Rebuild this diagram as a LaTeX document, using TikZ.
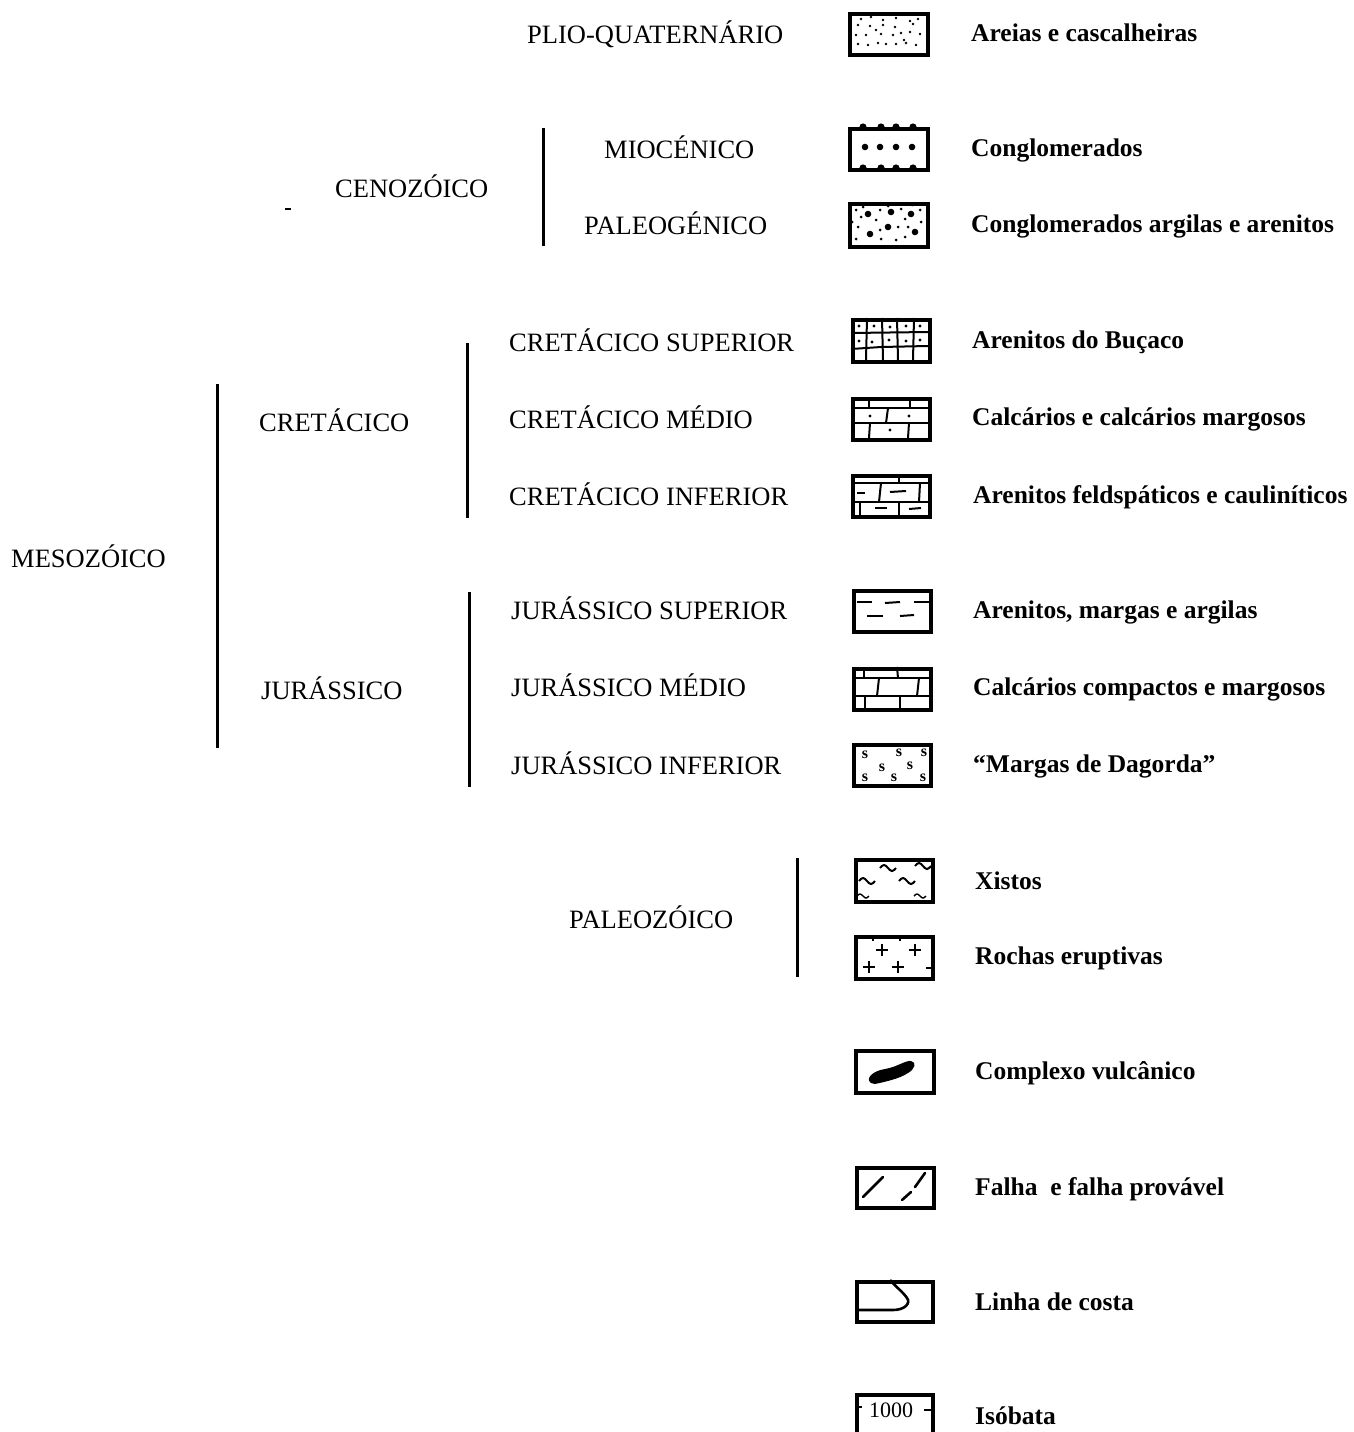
\documentclass[tikz,border=0pt]{standalone}
\usepackage{fontspec}
\setmainfont{Liberation Serif}
\begin{document}
\begin{tikzpicture}[x=1pt,y=-1pt,
  lbl/.style={anchor=base west, inner sep=0pt, font=\fontsize{26.5}{30}\selectfont},
  desc/.style={anchor=base west, inner sep=0pt, font=\fontsize{25.5}{30}\selectfont\bfseries},
  bar/.style={line width=3pt},
  symbox/.style={draw, line width=3.6pt, minimum width=78pt, minimum height=41pt, anchor=north west, inner sep=0pt},
  pat/.style={line width=2pt},
  dot/.style={fill=black, draw=none}]
\useasboundingbox (0,0) rectangle (1353,1432);
\clip (0,0) rectangle (1353,1432);

% ---------- left labels ----------
\node[lbl] (plio) at (527,43) {PLIO-QUATERN\'ARIO};
\node[lbl] (mio) at (604,158) {MIOC\'ENICO};
\node[lbl] (paleog) at (584,234) {PALEOG\'ENICO};
\node[lbl] (ceno) at (335,197) {CENOZ\'OICO};
\node[lbl] (cs) at (509,351) {CRET\'ACICO SUPERIOR};
\node[lbl] (cm) at (509,428) {CRET\'ACICO M\'EDIO};
\node[lbl] (ci) at (509,505) {CRET\'ACICO INFERIOR};
\node[lbl] (cret) at (259,431) {CRET\'ACICO};
\node[lbl] (meso) at (11,567) {MESOZ\'OICO};
\node[lbl] (js) at (511,619) {JUR\'ASSICO SUPERIOR};
\node[lbl] (jm) at (511,696) {JUR\'ASSICO M\'EDIO};
\node[lbl] (ji) at (511,774) {JUR\'ASSICO INFERIOR};
\node[lbl] (jur) at (261,699) {JUR\'ASSICO};
\node[lbl] (paleoz) at (569,928) {PALEOZ\'OICO};

% ---------- bars ----------
\coordinate (b1t) at (543,128); \coordinate (b1b) at (543,246);
\coordinate (b2t) at (217,384); \coordinate (b2b) at (217,748);
\coordinate (b3t) at (467,343); \coordinate (b3b) at (467,518);
\coordinate (b4t) at (469,592); \coordinate (b4b) at (469,787);
\coordinate (b5t) at (797,858); \coordinate (b5b) at (797,977);
\draw[bar] (b1t) -- (b1b);
\draw[bar] (b2t) -- (b2b);
\draw[bar] (b3t) -- (b3b);
\draw[bar] (b4t) -- (b4b);
\draw[bar] (b5t) -- (b5b);
\coordinate (m1) at (285,209); \coordinate (m2) at (291,209);
\draw[line width=1.8pt] (m1) -- (m2);

% ---------- right descriptions ----------
\node[desc] (d1) at (971,41) {Areias e cascalheiras};
\node[desc] (d2) at (971,156) {Conglomerados};
\node[desc] (d3) at (971,232) {Conglomerados argilas e arenitos};
\node[desc] (d4) at (972,348) {Arenitos do Bu\c{c}aco};
\node[desc] (d5) at (972,425) {Calc\'arios e calc\'arios margosos};
\node[desc] (d6) at (973,503) {Arenitos feldsp\'aticos e caulin\'iticos};
\node[desc] (d7) at (973,618) {Arenitos, margas e argilas};
\node[desc] (d8) at (973,695) {Calc\'arios compactos e margosos};
\node[desc] (d9) at (973,772) {``Margas de Dagorda''};
\node[desc] (d10) at (975,889) {Xistos};
\node[desc] (d11) at (975,964) {Rochas eruptivas};
\node[desc] (d12) at (975,1079) {Complexo vulc\^anico};
\node[desc] (d13) at (975,1195) {Falha \ e falha prov\'avel};
\node[desc] (d14) at (975,1310) {Linha de costa};
\node[desc] (d15) at (975,1424) {Is\'obata};

% ---------- symbol boxes ----------
% 1 sand
\node[symbox] (s1) at (848,12) {};
\begin{scope}[shift={(848,12)}]
  \foreach \p in {(13,7),(23,5),(35,8),(48,6),(62,9),(70,7),(10,13),(22,14),(35,13),(47,15),(65,12),
    (8,23),(18,23),(33,22),(45,23),(53,21),(62,20),(72,22),(10,32),(20,33),(30,31),(38,32),(48,32),(58,31),(68,33),(28,18),(56,28)}
    \fill \p circle (1.4);
\end{scope}
% 2 conglomerate
\node[symbox] (s2) at (848,127) {};
\begin{scope}[shift={(848,127)}]
  \foreach \x in {15,33,48,65} {\fill (\x,0) circle (3.6); \fill (\x,41) circle (3.6);}
  \foreach \x in {17,32,48,64} \fill (\x,20) circle (3.3);
\end{scope}
% 3 mixed
\node[symbox, minimum height=43pt] (s3) at (848,202) {};
\begin{scope}[shift={(848,202)}]
  \foreach \p in {(20,12),(43,10),(63,12),(40,25),(22,32),(67,30)} \fill \p circle (3.3);
  \foreach \p in {(8,8),(13,15),(32,8),(28,18),(53,7),(57,17),(72,8),(10,25),(32,28),(50,25),(60,25),(73,20),(8,37),(33,37),(48,38),(57,35),(15,5),(40,4),(64,3),(4,20)}
    \fill \p circle (1.5);
\end{scope}
% 4 grid (Buçaco)
\node[symbox, minimum width=77pt, minimum height=42pt] (s4) at (851,318) {};
\begin{scope}[shift={(851,318)}]
  \draw[pat] (0,15) -- (77,14);
  \draw[pat] (0,31) -- (30,29) -- (77,28);
  \draw[pat] (16,0) -- (15,42); \draw[pat] (31,0) -- (32,42);
  \draw[pat] (46,0) -- (47,42); \draw[pat] (63,0) -- (62,42);
  \foreach \p in {(8,8),(23,8),(39,9),(55,8),(69,8),(8,23),(21,24),(38,22),(55,23),(69,22)} \fill \p circle (1.6);
\end{scope}
% 5 limestone
\node[symbox, minimum width=77pt] (s5) at (851,397) {};
\begin{scope}[shift={(851,397)}]
  \draw[pat] (0,11) -- (77,11);
  \draw[pat] (0,26) -- (77,26);
  \draw[pat] (18,0) -- (18,11); \draw[pat] (59,0) -- (59,11);
  \draw[pat] (37,11) -- (35,26);
  \draw[pat] (19,26) -- (18,41); \draw[pat] (58,26) -- (57,41);
  \foreach \p in {(19,19),(58,19),(39,33)} \fill \p circle (1.6);
\end{scope}
% 6 marly
\node[symbox, minimum width=77pt] (s6) at (851,474) {};
\begin{scope}[shift={(851,474)}]
  \draw[pat] (0,9) -- (77,9);
  \draw[pat] (0,28) -- (77,28);
  \draw[pat] (48,0) -- (48,9);
  \draw[pat] (30,9) -- (28,28); \draw[pat] (69,9) -- (68,28);
  \draw[pat] (9,28) -- (9,41); \draw[pat] (48,28) -- (48,41);
  \draw[pat] (6,19) -- (14,19); \draw[pat] (39,18) -- (55,17);
  \draw[pat] (24,34) -- (36,34); \draw[pat] (58,35) -- (70,34);
\end{scope}
% 7 argillites
\node[symbox, minimum width=77pt] (s7) at (852,589) {};
\begin{scope}[shift={(852,589)}]
  \draw[pat] (5,13) -- (20,13); \draw[pat] (33,14) -- (48,13); \draw[pat] (62,13) -- (77,13);
  \draw[pat] (15,27) -- (31,27); \draw[pat] (48,27) -- (62,26);
\end{scope}
% 8 compact limestone
\node[symbox, minimum width=77pt] (s8) at (852,667) {};
\begin{scope}[shift={(852,667)}]
  \draw[pat] (0,11) -- (77,11);
  \draw[pat] (0,29) -- (77,29);
  \draw[pat] (12,0) -- (12,11); \draw[pat] (45,0) -- (46,11);
  \draw[pat] (27,11) -- (25,29); \draw[pat] (67,11) -- (65,29);
  \draw[pat] (13,29) -- (13,41); \draw[pat] (48,29) -- (48,41);
\end{scope}
% 9 Dagorda
\node[symbox, minimum width=77pt] (s9) at (852,743) {};
\begin{scope}[shift={(852,743)}]
  \foreach \p [count=\i] in {(13,12),(47,10),(72,10),(30,25),(58,23),(13,35),(42,35),(71,35)}
    \node[inner sep=0pt, font=\fontsize{16}{16}\selectfont\bfseries] (sg\i) at \p {s};
\end{scope}
% 10 schist
\node[symbox, minimum width=77pt, minimum height=42pt] (s10) at (854,858) {};
\begin{scope}[shift={(854,858)}]
  \foreach \x/\y in {34/10,69/8,13/23,53/23} {
    \draw[pat] (\x-8,\y) sin (\x-4,\y-3) cos (\x,\y) sin (\x+4,\y+3) cos (\x+8,\y);
  }
  \draw[line width=1.4pt] (3,38) sin (6,36) cos (9,38) sin (12,40) cos (15,38);
  \draw[line width=1.4pt] (60,38) sin (63,36) cos (66,38) sin (69,40) cos (72,38);
\end{scope}
% 11 eruptive
\node[symbox, minimum width=77pt, minimum height=42pt] (s11) at (854,935) {};
\begin{scope}[shift={(854,935)}]
  \foreach \x/\y in {28/15,61/15,15/32,44/32} {
    \draw[pat] (\x-6,\y) -- (\x+6,\y); \draw[pat] (\x,\y-6) -- (\x,\y+6);
  }
  \draw[pat] (19,0) -- (19,6); \draw[pat] (46,0) -- (46,6);
  \draw[pat] (0,15) -- (4,15); \draw[pat] (77,33) -- (72,33);
\end{scope}
% 12 volcanic
\node[symbox, minimum height=42pt] (s12) at (854,1049) {};
\begin{scope}[shift={(854,1049)}]
  \fill (17,34) .. controls (11,30) and (18,22) .. (31,20)
    .. controls (43,18) and (52,11) .. (57,12)
    .. controls (63,13) and (61,20) .. (54,24)
    .. controls (45,30) and (30,33) .. (21,35) -- cycle;
\end{scope}
% 13 faults
\node[symbox, minimum width=77pt, minimum height=40pt] (s13) at (855,1166) {};
\begin{scope}[shift={(855,1166)}]
  \draw[line width=2.6pt, line cap=round] (8,31) -- (28,11);
  \draw[line width=2.6pt, line cap=round] (47,34) -- (56,26);
  \draw[line width=2.6pt, line cap=round] (60,21) -- (70,7);
\end{scope}
% 14 coastline
\node[symbox, minimum width=76pt, minimum height=40pt] (s14) at (855,1280) {};
\begin{scope}[shift={(855,1280)}]
  \draw[line width=2.6pt] (0,30) -- (38,30) .. controls (50,30) and (56,23) .. (52,18)
    .. controls (48,12) and (40,6) .. (35,0);
\end{scope}
% 15 isobath
\node[symbox, minimum width=76pt, minimum height=50pt] (s15) at (855,1393) {};
\begin{scope}[shift={(855,1393)}]
  \draw[line width=2pt] (0,14) -- (7,14);
  \draw[line width=2pt] (76,17) -- (69,17);
  \node[inner sep=0pt, font=\fontsize{22}{22}\selectfont] (iso) at (36,17) {1000};
\end{scope}
\end{tikzpicture}
\end{document}
